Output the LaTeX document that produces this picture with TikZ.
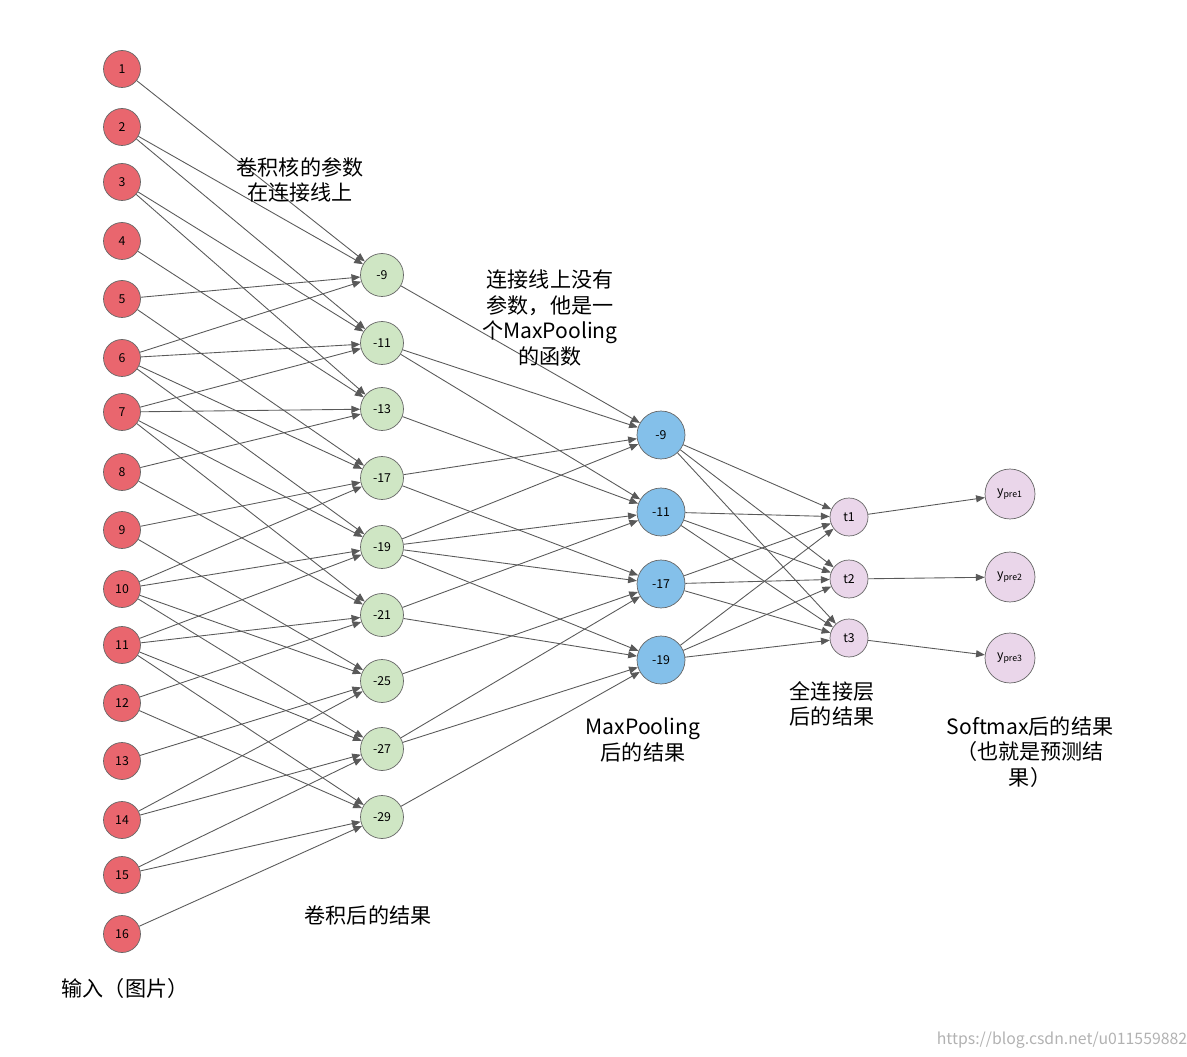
\documentclass[tikz,border=0pt]{standalone}
\usepackage{fontspec}
\setmainfont{Noto Sans CJK SC}
\usetikzlibrary{arrows.meta}
\definecolor{inred}{HTML}{E9666E}
\definecolor{convgreen}{HTML}{CFE6C4}
\definecolor{poolblue}{HTML}{84C0EA}
\definecolor{outpink}{HTML}{EAD6EA}
\tikzstyle{unit} = [circle,draw=gray!80!black,inner sep=0pt,font=\fontsize{7}{8}\selectfont]
\tikzstyle{conn} = [draw=gray!70!black,line width=0.5pt,-{Triangle[length=5pt,width=4pt]}]
\tikzstyle{note} = [align=center,font=\fontsize{12}{14.5}\selectfont]

\begin{document}
\begin{tikzpicture}[x=0.02cm,y=-0.02cm]
	\useasboundingbox (0,0) rectangle (1187,1057);
	% input layer
	\foreach \n/\y in {1/69,2/127,3/182,4/241,5/299,6/358,7/412,8/472,9/530,10/589,11/645,12/703,13/761,14/820,15/875,16/934}
		\node (in\n) [unit,fill=inred,minimum size=0.74cm] at (122,\y) {\n};
	% convolution layer
	\foreach \n/\v/\y in {1/-9/275,2/-11/343,3/-13/409,4/-17/478,5/-19/547,6/-21/615,7/-25/681,8/-27/749,9/-29/817}
		\node (cv\n) [unit,fill=convgreen,minimum size=0.86cm] at (382,\y) {\v};
	% max pooling layer
	\foreach \n/\v/\y in {1/-9/435,2/-11/512,3/-17/584,4/-19/660}
		\node (mp\n) [unit,fill=poolblue,minimum size=0.96cm] at (661,\y) {\v};
	% fully connected layer
	\foreach \n/\y in {1/517,2/579,3/638}
		\node (fc\n) [unit,fill=outpink,minimum size=0.76cm] at (849,\y) {t\n};
	% softmax
	\foreach \n/\y in {1/494,2/577,3/658}
		\node (sm\n) [unit,fill=outpink,minimum size=1.0cm] at (1010,\y) {y\textsubscript{pre\n}};
	% 2x2 kernel over the 4x4 input
	\foreach \r in {0,1,2}
		\foreach \c in {0,1,2} {
			\pgfmathtruncatemacro{\k}{3*\r+\c+1}
			\pgfmathtruncatemacro{\a}{4*\r+\c+1}
			\pgfmathtruncatemacro{\b}{4*\r+\c+2}
			\pgfmathtruncatemacro{\d}{4*\r+\c+5}
			\pgfmathtruncatemacro{\e}{4*\r+\c+6}
			\foreach \i in {\a,\b,\d,\e}
				\draw [conn] (in\i) -- (cv\k);
		}
	% 2x2 max pooling over the 3x3 map
	\foreach \r in {0,1}
		\foreach \c in {0,1} {
			\pgfmathtruncatemacro{\k}{2*\r+\c+1}
			\pgfmathtruncatemacro{\a}{3*\r+\c+1}
			\pgfmathtruncatemacro{\b}{3*\r+\c+2}
			\pgfmathtruncatemacro{\d}{3*\r+\c+4}
			\pgfmathtruncatemacro{\e}{3*\r+\c+5}
			\foreach \i in {\a,\b,\d,\e}
				\draw [conn] (cv\i) -- (mp\k);
		}
	\foreach \i in {1,...,4}
		\foreach \j in {1,2,3}
			\draw [conn] (mp\i) -- (fc\j);
	\foreach \j in {1,2,3}
		\draw [conn] (fc\j) -- (sm\j);
	% labels
	\node (t1) [note] at (300,180) {卷积核的参数\\在连接线上};
	\node (t2) [note] at (550,318) {连接线上没有\\参数，他是一\\个MaxPooling\\的函数};
	\node (t3) [note] at (643,740) {MaxPooling\\后的结果};
	\node (t4) [note] at (832,704) {全连接层\\后的结果};
	\node (t5) [note] at (1030,752) {Softmax后的结果\\（也就是预测结\\果）};
	\node (t6) [note] at (368,915) {卷积后的结果};
	\node (t7) [note] at (125,988) {输入（图片）};
	\node (wm) [font=\fontsize{9}{10}\selectfont,text=gray!60] at (1062,1040) {https://blog.csdn.net/u011559882};
\end{tikzpicture}
\end{document}
